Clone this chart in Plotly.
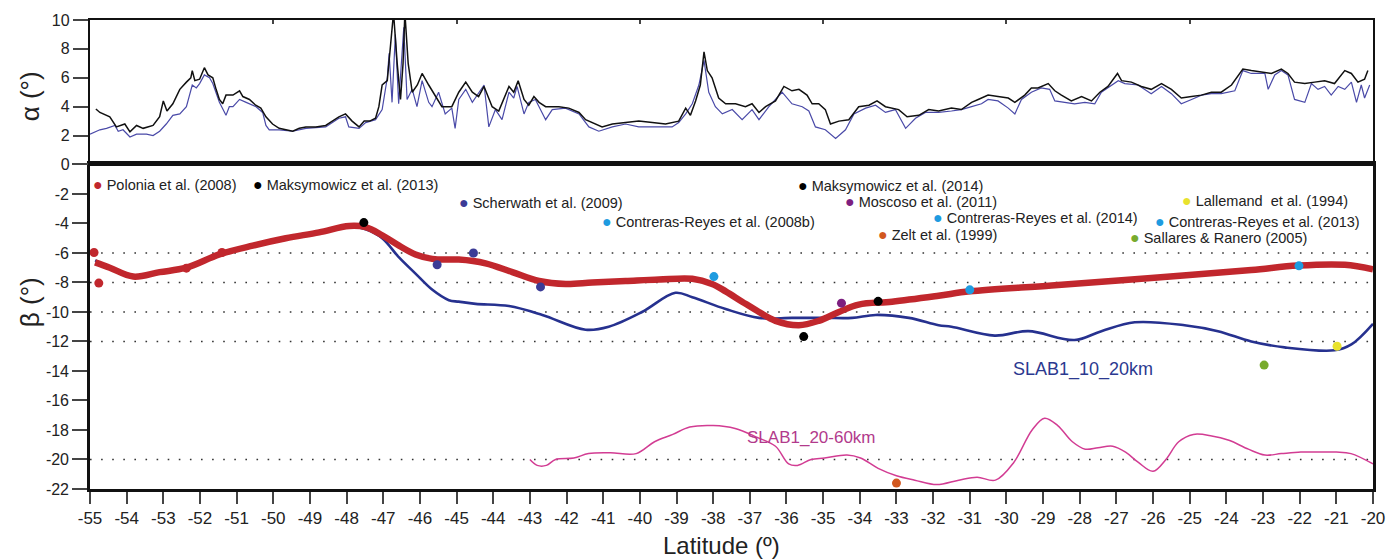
import plotly.graph_objects as go

# ---------------- data: top panel (alpha) ----------------
alpha_black_lat = [-54.84, -54.73, -54.46, -54.28, -54.05, -53.91, -53.73, -53.55, -53.28, -53.10, -53.0, -52.90, -52.74, -52.55, -52.37, -52.25, -52.21, -52.14, -52.01, -51.88, -51.78, -51.65, -51.56, -51.47, -51.38, -51.29, -51.10, -50.92, -50.83, -50.65, -50.48, -50.34, -50.20, -50.02, -49.84, -49.66, -49.47, -49.29, -49.11, -48.84, -48.57, -48.39, -48.21, -48.03, -47.85, -47.66, -47.52, -47.37, -47.21, -47.12, -47.03, -46.89, -46.80, -46.72, -46.62, -46.53, -46.46, -46.41, -46.32, -46.21, -46.07, -45.94, -45.76, -45.58, -45.40, -45.13, -44.94, -44.75, -44.57, -44.40, -44.25, -44.03, -43.85, -43.57, -43.44, -43.32, -43.16, -43.03, -42.89, -42.75, -42.57, -42.39, -42.21, -41.94, -41.66, -41.48, -41.21, -41.03, -40.75, -40.39, -40.03, -39.66, -39.30, -38.94, -38.75, -38.62, -38.48, -38.35, -38.25, -38.16, -38.03, -37.85, -37.66, -37.39, -37.12, -36.94, -36.75, -36.57, -36.30, -36.07, -35.85, -35.66, -35.44, -35.30, -35.12, -34.94, -34.80, -34.57, -34.30, -34.03, -33.75, -33.53, -33.30, -32.94, -32.71, -32.39, -32.12, -31.85, -31.50, -31.23, -30.95, -30.77, -30.50, -30.23, -29.95, -29.77, -29.50, -29.32, -29.14, -28.86, -28.68, -28.50, -28.23, -27.95, -27.68, -27.45, -27.23, -26.97, -26.86, -26.59, -26.32, -26.05, -25.77, -25.50, -25.23, -24.95, -24.68, -24.41, -24.14, -23.86, -23.55, -23.32, -23.05, -22.77, -22.50, -22.32, -22.14, -21.86, -21.59, -21.32, -21.05, -20.77, -20.59, -20.41, -20.23, -20.14]
alpha_black = [3.84, 3.6, 3.3, 2.6, 2.8, 2.26, 2.7, 2.5, 2.7, 3.3, 4.4, 3.7, 4.2, 5.2, 5.7, 6.0, 6.5, 5.8, 5.9, 6.7, 6.2, 6.0, 5.2, 4.5, 4.2, 4.8, 4.8, 5.1, 4.7, 4.5, 4.1, 3.9, 3.3, 2.8, 2.5, 2.4, 2.3, 2.5, 2.6, 2.6, 2.7, 3.0, 3.3, 3.5, 3.0, 2.6, 3.0, 3.0, 3.2, 4.0, 5.5, 5.8, 8.0, 10.5, 7.0, 4.5, 7.0, 10.5, 7.0, 5.0, 5.5, 6.3, 5.5, 4.7, 4.0, 4.0, 5.0, 5.7, 5.0, 4.7, 5.4, 4.0, 3.7, 5.4, 5.0, 5.8, 4.5, 4.1, 4.7, 4.3, 4.0, 4.0, 4.0, 3.9, 3.6, 3.1, 2.8, 2.6, 2.8, 2.9, 3.0, 2.9, 2.8, 3.0, 3.9, 3.4, 4.4, 5.5, 7.8, 6.5, 6.0, 4.6, 4.2, 4.2, 4.0, 4.2, 3.6, 4.0, 4.4, 5.4, 5.1, 5.2, 4.8, 4.2, 4.2, 3.8, 2.8, 3.0, 3.1, 4.0, 4.1, 4.4, 4.0, 3.8, 3.3, 3.4, 3.8, 3.7, 3.9, 3.8, 4.3, 4.5, 4.8, 4.7, 4.6, 4.3, 4.8, 5.3, 5.3, 5.6, 5.1, 4.8, 4.4, 4.7, 4.4, 5.0, 5.4, 6.3, 5.8, 5.7, 5.4, 5.2, 5.6, 5.2, 4.6, 4.7, 4.8, 5.0, 5.0, 5.5, 6.6, 6.5, 6.4, 6.3, 6.6, 6.3, 5.7, 5.6, 5.7, 5.8, 5.6, 6.5, 6.3, 5.7, 5.9, 6.5]

alpha_blue_lat = [-55.0, -54.73, -54.55, -54.32, -54.23, -54.10, -53.91, -53.73, -53.46, -53.28, -53.10, -52.92, -52.74, -52.55, -52.37, -52.21, -52.10, -52.01, -51.88, -51.74, -51.65, -51.47, -51.29, -51.20, -51.10, -50.92, -50.74, -50.47, -50.29, -50.20, -50.11, -49.84, -49.47, -49.11, -48.57, -48.21, -48.03, -47.94, -47.66, -47.48, -47.21, -47.03, -46.89, -46.84, -46.76, -46.67, -46.58, -46.44, -46.35, -46.21, -46.08, -45.94, -45.76, -45.67, -45.49, -45.31, -45.13, -45.04, -44.94, -44.75, -44.57, -44.25, -44.12, -43.94, -43.76, -43.57, -43.44, -43.35, -43.16, -43.03, -42.85, -42.57, -42.39, -42.03, -41.66, -41.39, -41.12, -40.75, -40.39, -40.03, -39.85, -39.48, -39.12, -38.94, -38.75, -38.57, -38.39, -38.25, -38.12, -37.94, -37.75, -37.48, -37.21, -36.94, -36.75, -36.48, -36.12, -35.85, -35.57, -35.39, -35.21, -34.94, -34.66, -34.39, -34.16, -33.84, -33.57, -33.30, -33.03, -32.75, -32.48, -32.21, -31.85, -31.50, -31.23, -30.95, -30.68, -30.50, -30.23, -29.95, -29.77, -29.59, -29.32, -29.05, -28.82, -28.68, -28.41, -28.14, -27.86, -27.59, -27.41, -27.14, -26.95, -26.77, -26.41, -26.05, -25.77, -25.50, -25.23, -24.95, -24.68, -24.41, -24.14, -23.77, -23.55, -23.32, -22.95, -22.86, -22.68, -22.50, -22.32, -22.14, -21.86, -21.68, -21.50, -21.32, -21.14, -20.95, -20.77, -20.59, -20.45, -20.32, -20.23, -20.09]
alpha_blue = [2.1, 2.4, 2.5, 2.7, 2.3, 2.4, 1.9, 2.1, 2.1, 2.0, 2.3, 2.8, 3.4, 3.5, 4.0, 5.5, 5.3, 5.6, 6.2, 6.0, 5.6, 4.3, 3.4, 4.0, 4.0, 4.5, 4.3, 4.0, 3.6, 2.7, 2.4, 2.4, 2.3, 2.5, 2.6, 3.2, 3.3, 2.6, 2.5, 2.9, 3.1, 3.8, 6.0, 7.7, 4.3, 9.0, 4.2, 9.5, 4.5, 5.2, 4.0, 5.8, 4.3, 4.0, 5.0, 3.5, 3.9, 2.5, 4.5, 5.2, 4.3, 5.5, 2.6, 3.8, 3.1, 5.0, 4.6, 5.4, 3.5, 4.3, 4.5, 3.1, 3.8, 3.9, 3.5, 2.6, 2.3, 2.6, 2.8, 2.6, 2.6, 2.6, 2.6, 2.9, 3.5, 4.2, 5.5, 7.2, 5.0, 4.0, 3.5, 3.8, 3.1, 3.8, 3.1, 4.0, 5.0, 4.2, 4.0, 3.7, 2.6, 2.4, 1.8, 2.4, 3.5, 3.9, 4.1, 3.6, 3.8, 2.5, 3.2, 3.6, 3.6, 3.7, 3.8, 4.0, 4.2, 4.5, 4.4, 3.9, 3.5, 4.5, 5.0, 5.3, 5.2, 4.4, 4.3, 4.2, 4.3, 4.2, 5.0, 5.5, 5.8, 5.6, 5.5, 4.9, 5.4, 4.9, 4.2, 4.5, 4.8, 4.9, 4.9, 5.1, 6.5, 6.3, 6.3, 5.2, 6.2, 6.5, 6.2, 4.5, 4.3, 5.6, 5.2, 5.4, 4.8, 5.4, 5.2, 5.7, 4.3, 5.5, 4.6, 5.5]

# ---------------- data: bottom panel (beta) ----------------
red_lat = [-54.86, -54.46, -53.82, -53.10, -52.37, -51.47, -50.56, -49.66, -48.75, -47.93, -47.48, -47.03, -46.57, -46.12, -45.66, -45.21, -44.94, -44.21, -43.48, -42.75, -42.02, -41.30, -40.39, -39.48, -38.57, -38.03, -37.66, -37.21, -36.75, -36.30, -35.66, -35.12, -34.57, -34.03, -33.12, -31.85, -31.0, -28.77, -26.05, -23.32, -22.05, -20.77, -20.0]
red_beta = [-6.64, -7.0, -7.6, -7.3, -7.0, -6.1, -5.5, -5.0, -4.6, -4.17, -4.25, -4.8, -5.5, -6.1, -6.4, -6.45, -6.45, -6.7, -7.3, -7.9, -8.1, -8.0, -7.9, -7.8, -7.75, -8.1, -8.6, -9.3, -10.0, -10.6, -10.9, -10.6, -10.0, -9.5, -9.3, -8.9, -8.6, -8.2, -7.7, -7.15, -6.85, -6.8, -7.1]

slab10_lat = [-54.86, -54.46, -53.82, -53.10, -52.37, -51.47, -50.56, -49.66, -48.75, -47.93, -47.48, -47.03, -46.57, -46.12, -45.66, -45.21, -44.94, -44.48, -43.57, -42.66, -41.48, -40.85, -39.94, -39.03, -38.57, -37.66, -36.75, -35.85, -34.94, -34.21, -33.57, -32.66, -31.85, -31.5, -30.32, -29.4, -28.14, -27.41, -26.5, -25.14, -24.23, -23.32, -22.41, -21.05, -20.59, -20.0]
slab10_beta = [-6.5, -6.95, -7.55, -7.25, -6.95, -6.05, -5.45, -4.95, -4.55, -4.17, -4.4, -5.0, -6.3, -7.4, -8.5, -9.2, -9.3, -9.45, -9.6, -10.2, -11.2, -11.0, -10.0, -8.7, -9.0, -9.8, -10.4, -10.4, -10.4, -10.4, -10.2, -10.4, -10.9, -11.0, -11.6, -11.3, -11.9, -11.3, -10.7, -10.9, -11.3, -12.0, -12.4, -12.6, -12.2, -10.8]

slab20_lat = [-43.0, -42.8, -42.55, -42.3, -41.8, -41.4, -40.8, -40.1, -39.6, -39.1, -38.64, -38.0, -37.4, -36.8, -36.3, -35.94, -35.7, -35.33, -34.96, -34.35, -33.98, -33.5, -33.0, -32.5, -31.9, -31.3, -30.8, -30.3, -29.8, -29.3, -28.96, -28.6, -28.2, -27.85, -27.5, -27.1, -26.75, -26.4, -26.0, -25.65, -25.3, -24.9, -24.4, -23.93, -23.4, -22.95, -22.5, -21.97, -21.5, -21.0, -20.6, -20.0]
slab20_beta = [-20.0, -20.4, -20.4, -20.0, -19.9, -19.6, -19.55, -19.6, -18.8, -18.3, -17.8, -17.7, -17.9, -18.5, -19.1, -20.3, -20.4, -20.0, -19.9, -19.7, -19.9, -20.6, -21.1, -21.4, -21.7, -21.4, -21.2, -21.4, -20.2, -18.0, -17.2, -17.7, -18.8, -19.3, -19.2, -19.1, -19.5, -20.2, -20.8, -20.0, -18.8, -18.3, -18.4, -18.7, -19.3, -19.7, -19.6, -19.5, -19.5, -19.5, -19.6, -20.3]

# observations (name, colour, lats, betas)
obs_names = ["Polonia et al. (2008)", "Maksymowicz et al. (2013)", "Scherwath et al. (2009)",
             "Contreras-Reyes et al. (2008b)", "Maksymowicz et al. (2014)", "Moscoso et al. (2011)",
             "Contreras-Reyes et al. (2014)", "Zelt et al. (1999)", "Lallemand  et al. (1994)",
             "Contreras-Reyes et al. (2013)", "Sallares & Ranero (2005)"]
obs_colors = ["#c1272d", "#000000", "#3b3b96", "#1e9be0", "#000000", "#7d1f80",
              "#1e9be0", "#d2581f", "#e8e22e", "#1e9be0", "#78ab2d"]
obs_lat = [[-54.89, -54.76, -52.37, -51.4], [-47.53], [-45.53, -44.54, -42.71], [-37.98],
           [-35.53, -33.5], [-34.5], [-31.0], [-33.0], [-20.98], [-22.02], [-22.97]]
obs_beta = [[-5.97, -8.04, -7.03, -5.97], [-3.94], [-6.8, -6.0, -8.3], [-7.6],
            [-11.67, -9.28], [-9.4], [-8.5], [-21.6], [-12.32], [-6.87], [-13.6]]
# legend label anchor positions (pixel positions of the dot in the original figure)
legend_px = [(98, 181), (258, 181), (465, 199), (608, 219), (805, 182), (852, 198),
             (940, 215), (885, 232), (1190, 197), (1162, 219), (1137, 235)]

ref_levels = [-6, -8, -10, -12, -20]

x_ticks = list(range(-55, -19))
x_ticktext = ["-" + str(abs(v)) for v in x_ticks]
b_ticks = list(range(-22, 1, 2))
b_ticktext = ["-" + str(abs(v)) if v != 0 else "" for v in b_ticks]
a_ticks = [0, 2, 4, 6, 8, 10]

# ---------------- layout geometry ----------------
W, H = 1397, 560
L, R, T, B = 90, 21, 15, 71
PW, PH = W - L - R, H - T - B
split = (489 - 161) / PH

def paper(px, py):
    return (px - L) / PW, (H - B - py) / PH

fig = go.Figure()

fig.add_trace(go.Scatter(x=alpha_blue_lat, y=alpha_blue, mode="lines",
                         line=dict(color="#4a4aa8", width=1.2), xaxis="x2", yaxis="y2"))
fig.add_trace(go.Scatter(x=alpha_black_lat, y=alpha_black, mode="lines",
                         line=dict(color="#111111", width=1.5), xaxis="x2", yaxis="y2"))

for lv in ref_levels:
    fig.add_shape(type="line", xref="x", yref="y", x0=-55, x1=-20, y0=lv, y1=lv,
                  line=dict(color="#333333", width=1.6, dash="1.6px,9.5px"), layer="below")

fig.add_trace(go.Scatter(x=slab20_lat, y=slab20_beta, mode="lines", line_shape="spline",
                         line=dict(color="#d23c93", width=1.5)))
fig.add_trace(go.Scatter(x=slab10_lat, y=slab10_beta, mode="lines", line_shape="spline",
                         line=dict(color="#26318f", width=2.6)))
fig.add_trace(go.Scatter(x=red_lat, y=red_beta, mode="lines", line_shape="spline",
                         line=dict(color="#c1272d", width=6.5)))

for name, col, la, be in zip(obs_names, obs_colors, obs_lat, obs_beta):
    fig.add_trace(go.Scatter(x=la, y=be, mode="markers", name=name,
                             marker=dict(color=col, size=9, line=dict(width=0))))

legend_font = "Liberation Sans, Arial"
for name, col, (px, py) in zip(obs_names, obs_colors, legend_px):
    xp, yp = paper(px - 7, py)
    fig.add_annotation(xref="paper", yref="paper", x=xp, y=yp, xanchor="left", yanchor="middle",
                       showarrow=False,
                       text=f"<span style='color:{col};font-size:16px'>●</span> {name}",
                       font=dict(family=legend_font, size=14.5, color="#222222"))

def label(px, py, text, size, color, angle=0):
    xp, yp = paper(px, py)
    fig.add_annotation(xref="paper", yref="paper", x=xp, y=yp, xanchor="center", yanchor="middle",
                       showarrow=False, textangle=angle, text=text,
                       font=dict(family=legend_font, size=size, color=color))

label(1085, 368, "SLAB1_10_20km", 18, "#2b3990")
label(813, 437, "SLAB1_20-60km", 17, "#b23a8c")
label(30, 92, "α (°)", 26, "#222222", -90)
label(30, 300, "β (°)", 26, "#222222", -90)
label(723, 546, "Latitude (º)", 24, "#222222")

axis_common = dict(showgrid=False, zeroline=False, linecolor="#111111", showline=True)
fig.update_layout(
    width=W, height=H, margin=dict(l=L, r=R, t=T, b=B),
    paper_bgcolor="white", plot_bgcolor="white", showlegend=False,
    font=dict(family="Liberation Sans, Arial", color="#222222"),
    xaxis=dict(axis_common, range=[-55, -20], domain=[0, 1], anchor="y", linewidth=2.6, mirror=True,
               tickvals=x_ticks, ticktext=x_ticktext, ticks="outside", ticklen=12, tickwidth=2,
               tickcolor="#444444", tickfont=dict(size=17, family="Liberation Sans, Arial")),
    yaxis=dict(axis_common, range=[-22, 0], domain=[0, split], anchor="x", linewidth=2.6, mirror=True,
               tickvals=b_ticks, ticktext=b_ticktext, ticks="outside", ticklen=15, tickwidth=2,
               tickcolor="#444444", tickfont=dict(size=16)),
    xaxis2=dict(axis_common, range=[-55, -20], domain=[0, 1], anchor="y2", side="top", linewidth=2.2,
                mirror=True, tickvals=list(range(-50, -20, 5)), ticks="inside", ticklen=4, tickwidth=1.5,
                showticklabels=False),
    yaxis2=dict(axis_common, range=[0, 10], domain=[split, 1], anchor="x2", linewidth=2.4, mirror=True,
                tickvals=a_ticks, ticks="outside", ticklen=15, tickwidth=2, tickcolor="#444444",
                tickfont=dict(size=16)),
)

fig.write_html("out.html")
